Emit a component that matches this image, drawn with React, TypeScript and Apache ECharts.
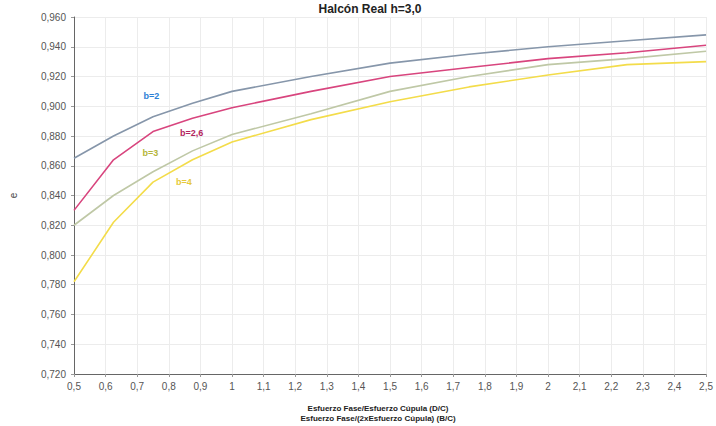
import React, { useEffect, useRef } from "react";
import * as echarts from "echarts";

const xValues = [0.5, 0.625, 0.75, 0.875, 1.0, 1.25, 1.5, 1.75, 2.0, 2.25, 2.5];
const seriesB2 = [0.865, 0.88, 0.893, 0.902, 0.91, 0.92, 0.929, 0.935, 0.94, 0.944, 0.948];
const seriesB26 = [0.83, 0.864, 0.883, 0.892, 0.899, 0.91, 0.92, 0.926, 0.932, 0.936, 0.941];
const seriesB3 = [0.82, 0.84, 0.856, 0.87, 0.881, 0.895, 0.91, 0.92, 0.928, 0.932, 0.937];
const seriesB4 = [0.782, 0.822, 0.849, 0.864, 0.876, 0.891, 0.903, 0.913, 0.921, 0.928, 0.93];

const labelNames = ["b=2", "b=2,6", "b=3", "b=4"];
const labelCoords: [number, number][] = [
  [0.745, 0.907],
  [0.872, 0.882],
  [0.742, 0.8686],
  [0.848, 0.849],
];

const titleText = "Halcón Real h=3,0";
const xTitle1 = "Esfuerzo Fase/Esfuerzo Cúpula (D/C)";
const xTitle2 = "Esfuerzo Fase/(2xEsfuerzo Cúpula) (B/C)";
const yTitle = "e";

const lineColors = ["#8696aa", "#d8457e", "#bfc8a6", "#f3dc4a"];
const labelColors = ["#2d80d6", "#b3245e", "#b5b63a", "#e6c93a"];

export default function App() {
  const ref = useRef<HTMLDivElement>(null);
  useEffect(() => {
    document.body.style.margin = "0";
    const chart = echarts.init(ref.current!, undefined, { renderer: "svg" });
    const datasets = [seriesB2, seriesB26, seriesB3, seriesB4];
    const font = "Liberation Sans";
    chart.setOption({
      animation: false,
      backgroundColor: "#ffffff",
      textStyle: { fontFamily: font },
      title: {
        text: titleText,
        left: 365,
        top: -2,
        textAlign: "center",
        textStyle: { fontSize: 12, fontWeight: "bold", color: "#222", fontFamily: font },
      },
      grid: { left: 69, right: 7, top: 17, bottom: 52 },
      xAxis: {
        type: "value",
        min: 0.5,
        max: 2.5,
        interval: 0.1,
        axisLine: { show: true, lineStyle: { color: "#666", width: 1 } },
        axisTick: { show: true, length: 3, lineStyle: { color: "#999" } },
        splitLine: { show: true, lineStyle: { color: "#ececec" } },
        axisLabel: {
          color: "#555",
          fontSize: 10,
          margin: 7,
          formatter: (v: number) => String(Math.round(v * 10) / 10).replace(".", ","),
        },
      },
      yAxis: {
        type: "value",
        min: 0.72,
        max: 0.96,
        interval: 0.02,
        name: yTitle,
        nameLocation: "middle",
        nameGap: 56,
        nameTextStyle: { color: "#444", fontSize: 10 },
        axisLine: { show: true, lineStyle: { color: "#666", width: 1 } },
        axisTick: { show: true, length: 3, lineStyle: { color: "#999" } },
        splitLine: { show: true, lineStyle: { color: "#ececec" } },
        axisLabel: {
          color: "#555",
          fontSize: 10,
          margin: 8,
          formatter: (v: number) => v.toFixed(3).replace(".", ","),
        },
      },
      series: datasets.map((d, i) => ({
        type: "line",
        name: labelNames[i],
        data: xValues.map((x, j) => [x, d[j]]),
        showSymbol: false,
        symbol: "none",
        lineStyle: { color: lineColors[i], width: 1.6 },
        z: 10 - i,
        markPoint: {
          symbol: "circle",
          symbolSize: 0,
          data: [{ coord: labelCoords[i], value: labelNames[i] }],
          label: {
            show: true,
            position: "inside",
            formatter: labelNames[i],
            color: labelColors[i],
            fontSize: 9,
            fontWeight: "bold",
          },
        },
      })),
      graphic: [
        {
          type: "text",
          x: 378,
          y: 403,
          style: {
            text: xTitle1 + "\n" + xTitle2,
            align: "center",
            verticalAlign: "top",
            fontSize: 8,
            fontWeight: "bold",
            lineHeight: 10,
            fill: "#222",
            fontFamily: font,
          },
        },
      ],
    });
    return () => chart.dispose();
  }, []);
  return <div ref={ref} style={{ width: 716, height: 426 }} />;
}
